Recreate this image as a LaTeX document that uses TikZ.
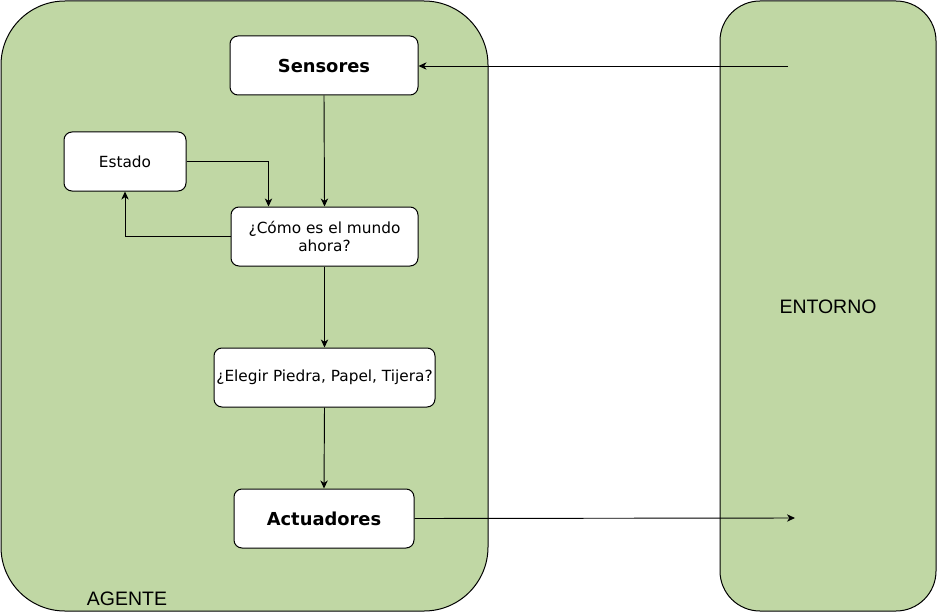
\documentclass[tikz,border=0pt]{standalone}
\usepackage{fontspec}
\setmainfont{DejaVu Sans}
\newfontfamily\lsans{Liberation Sans}
\usetikzlibrary{arrows.meta}
\definecolor{leaf}{RGB}{192,215,164}
\tikzset{
  region/.style={draw=black, fill=leaf, line width=0.75pt},
  box/.style={draw=black, fill=white, rounded corners=6pt, line width=0.75pt, inner sep=0pt,
    minimum height=44.25pt, font=\fontsize{11.5}{14}\selectfont, align=center},
  boldbox/.style={box, font=\fontsize{13.4}{15}\selectfont\bfseries},
  arr/.style={-{Stealth[length=6pt,width=5.5pt,inset=1.8pt]}, line width=0.7pt, draw=black},
  lbl/.style={font=\lsans\fontsize{14.6}{17}\selectfont, inner sep=0pt}
}
\begin{document}
\begin{tikzpicture}[x=0.75pt,y=-0.75pt]
\useasboundingbox (0,0) rectangle (938,613);
% regions
\draw[region, rounded corners=48pt] (1,1) rectangle (488,611);
\draw[region, rounded corners=30pt] (720,1) rectangle (936,611);
\node[lbl] (entorno) at (828,307) {ENTORNO};
\node[lbl] (agente) at (127,599) {AGENTE};
% boxes
\node[boldbox, minimum width=141pt] (sens) at (324,65.5) {\raisebox{-1pt}{Sensores}};
\node[box, minimum width=91.5pt] (estado) at (125,161.5) {\raisebox{-1.5pt}{Estado}};
\node[box, minimum width=140.25pt] (como) at (324.5,236.5) {¿Cómo es el mundo\\ahora?};
\node[box, minimum width=165.75pt] (elegir) at (324.5,377.5) {\raisebox{-1pt}{¿Elegir Piedra, Papel, Tijera?}};
\node[boldbox, minimum width=135pt] (act) at (324,518.5) {\raisebox{-1pt}{Actuadores}};
% free ends in the environment
\coordinate (envout) at (788,66);
\coordinate (envin) at (795,518);
% connectors
\draw[arr] (envout) -- (sens.east |- envout);
\draw[arr] (sens.south) -- (como.north);
\draw[arr] (estado.east) -| ([xshift=28.5pt]como.north west);
\draw[arr] (como.west) -| (estado.south);
\draw[arr] (como.south) -- (elegir.north);
\draw[arr] (elegir.south) -- (act.north);
\draw[arr] (act.east) -- (envin);
\end{tikzpicture}
\end{document}
